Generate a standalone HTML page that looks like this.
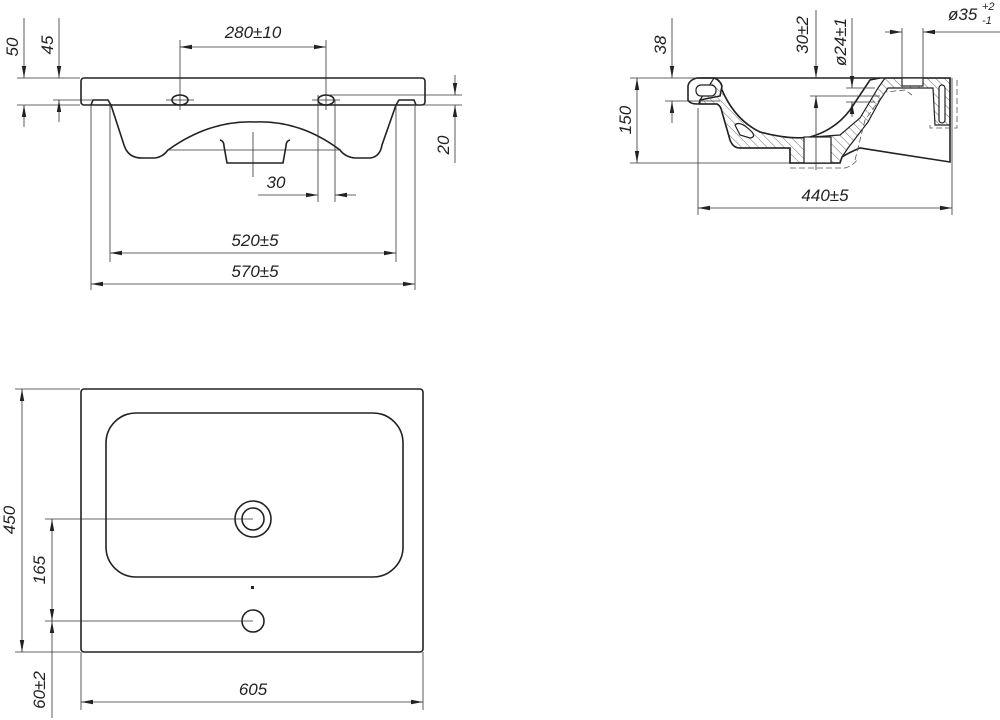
<!DOCTYPE html>
<html><head><meta charset="utf-8"><style>
html,body{margin:0;padding:0;background:#fff}
svg{display:block}
text{font-family:"Liberation Sans",sans-serif;font-style:italic;font-size:17px;fill:#222}
.t{stroke:#222;stroke-width:1.6;fill:none}
.d{stroke:#333;stroke-width:0.8;fill:none}
.dash{stroke:#555;stroke-width:0.8;fill:none;stroke-dasharray:6 3}
</style></head><body>
<svg width="1000" height="720" viewBox="0 0 1000 720" xmlns="http://www.w3.org/2000/svg">
<defs>
<marker id="a" viewBox="0 0 12 6" refX="12" refY="3" markerWidth="12" markerHeight="6" orient="auto-start-reverse" markerUnits="userSpaceOnUse"><path d="M0,0.8 L12,3 L0,5.2 Z" fill="#222"/></marker>
<pattern id="h" width="6" height="6" patternUnits="userSpaceOnUse" patternTransform="rotate(-45)"><line x1="0" y1="0" x2="0" y2="6" stroke="#444" stroke-width="0.8"/></pattern>
</defs>

<!-- TOP LEFT VIEW -->
<rect x="81" y="78" width="344" height="27" rx="3" class="t"/>
<path class="t" d="M91,105 L93,100 L108,100 L111,105"/>
<path class="t" d="M396,105 L399,100 L414,100 L416,105"/>
<path class="t" d="M111,105 L124,145 Q128,158 142,158 L155,158 Q163,157 168,150 Q210,120 255,122 Q300,120 340,150 Q345,157 355,158 L370,158 Q380,157 382,145 L396,105"/>
<line class="d" x1="168" y1="150" x2="340" y2="150"/>
<path class="t" d="M220,140 Q224,141 224,146 L227,163 L283,163 L286,146 Q286,141 290,140"/>
<ellipse class="t" cx="180" cy="100" rx="8" ry="5"/>
<ellipse class="t" cx="326" cy="100" rx="8" ry="5"/>
<line class="d" x1="253" y1="132" x2="253" y2="177"/>
<!-- 280 -->
<line class="d" x1="180" y1="40" x2="180" y2="110"/>
<line class="d" x1="326" y1="40" x2="326" y2="110"/>
<line class="d" x1="180" y1="47" x2="326" y2="47" marker-start="url(#a)" marker-end="url(#a)"/>
<line class="d" x1="166" y1="100" x2="194" y2="100"/>
<line class="d" x1="312" y1="100" x2="340" y2="100"/>
<text x="253" y="38" text-anchor="middle">280±10</text>
<!-- 50 / 45 -->
<line class="d" x1="17" y1="78" x2="80" y2="78"/>
<line class="d" x1="17" y1="105" x2="80" y2="105"/>
<line class="d" x1="53" y1="100" x2="93" y2="100"/>
<line class="d" x1="24" y1="18" x2="24" y2="78" marker-end="url(#a)"/>
<line class="d" x1="24" y1="127" x2="24" y2="105" marker-end="url(#a)"/>
<line class="d" x1="59" y1="18" x2="59" y2="78" marker-end="url(#a)"/>
<line class="d" x1="59" y1="122" x2="59" y2="100" marker-end="url(#a)"/>
<text transform="translate(18,47) rotate(-90)" text-anchor="middle">50</text>
<text transform="translate(53,45) rotate(-90)" text-anchor="middle">45</text>
<!-- 20 -->
<line class="d" x1="330" y1="95" x2="462" y2="95"/>
<line class="d" x1="410" y1="105" x2="462" y2="105"/>
<line class="d" x1="455" y1="75" x2="455" y2="95" marker-end="url(#a)"/>
<line class="d" x1="455" y1="163" x2="455" y2="105" marker-end="url(#a)"/>
<text transform="translate(449,145) rotate(-90)" text-anchor="middle">20</text>
<!-- 30 -->
<line class="d" x1="318" y1="95" x2="318" y2="202"/>
<line class="d" x1="335" y1="100" x2="335" y2="202"/>
<line class="d" x1="258" y1="195" x2="318" y2="195" marker-end="url(#a)"/>
<line class="d" x1="356" y1="195" x2="335" y2="195" marker-end="url(#a)"/>
<text x="276" y="188" text-anchor="middle">30</text>
<!-- 520 / 570 -->
<line class="d" x1="110" y1="105" x2="110" y2="262"/>
<line class="d" x1="396" y1="105" x2="396" y2="262"/>
<line class="d" x1="91" y1="105" x2="91" y2="290"/>
<line class="d" x1="415" y1="105" x2="415" y2="290"/>
<line class="d" x1="110" y1="253" x2="396" y2="253" marker-start="url(#a)" marker-end="url(#a)"/>
<line class="d" x1="91" y1="284" x2="415" y2="284" marker-start="url(#a)" marker-end="url(#a)"/>
<text x="255" y="246" text-anchor="middle">520±5</text>
<text x="255" y="277" text-anchor="middle">570±5</text>

<!-- TOP RIGHT SECTION -->
<path class="t" d="M950,78 L697,78 Q689,80 688,86 L688,100 Q690,104 697,104 L717,104 Q721,106 722,112 L730,140 Q733,148 740,148 L790,148 L790,163 L840,163 L842,157 Q850,152 860,148 L950,162 Z" fill="#fff"/>
<path class="t" d="M697,78 L714,78 Q720,80 722,86 L720,96 L700,100 L699,104" fill="url(#h)"/>
<path class="t" d="M722,90 Q735,120 760,132 Q790,140 810,137 Q835,130 850,110 Q860,95 870,80 L880,78" />
<path d="M714,78 Q722,80 722,90 Q735,120 760,132 Q790,140 812,137 L840,135 L860,118 L878,88 L885,78 L950,78 L950,125 L935,125 L933,88 L888,88 L880,100 L868,122 L848,148 L842,157 L840,163 L790,163 L790,148 L740,148 Q733,148 730,140 L722,112 Q721,106 717,104 L700,104 L700,100 Z" fill="url(#h)" stroke="#222" stroke-width="1.2"/>
<rect x="804" y="137" width="27" height="26" fill="#fff" stroke="#222" stroke-width="1.2"/>
<rect x="696" y="85" width="20" height="11" rx="5" fill="#fff" stroke="#222" stroke-width="1.2"/>
<path d="M735,125 Q740,120 752,132 Q756,137 750,138 L740,135 Z" fill="#fff" stroke="#222" stroke-width="1.2"/>
<rect x="939" y="85" width="6" height="38" rx="3" fill="#fff" stroke="#222" stroke-width="1.2"/>
<rect x="902" y="78" width="21" height="8" fill="#fff" stroke="#222" stroke-width="1.2"/>
<path class="dash" d="M855,160 L865,120 L885,92 L905,90 L912,95"/>
<path class="dash" d="M790,168 L845,168 Q855,165 858,158"/>
<path class="dash" d="M930,125 L930,128 L957,128 L957,78"/>
<!-- dims right -->
<line class="d" x1="630" y1="78" x2="700" y2="78"/>
<line class="d" x1="630" y1="163" x2="790" y2="163"/>
<line class="d" x1="637" y1="78" x2="637" y2="163" marker-start="url(#a)" marker-end="url(#a)"/>
<text transform="translate(631,120) rotate(-90)" text-anchor="middle">150</text>
<line class="d" x1="665" y1="101" x2="720" y2="101"/>
<line class="d" x1="672" y1="18" x2="672" y2="78" marker-end="url(#a)"/>
<line class="d" x1="672" y1="123" x2="672" y2="101" marker-end="url(#a)"/>
<text transform="translate(666,45) rotate(-90)" text-anchor="middle">38</text>
<line class="d" x1="810" y1="96" x2="880" y2="96"/>
<line class="d" x1="816" y1="10" x2="816" y2="78" marker-end="url(#a)"/>
<line class="d" x1="816" y1="170" x2="816" y2="96" marker-end="url(#a)"/>
<text transform="translate(808,35) rotate(-90)" text-anchor="middle">30±2</text>
<line class="d" x1="846" y1="88" x2="875" y2="88"/>
<line class="d" x1="846" y1="102" x2="875" y2="102"/>
<line class="d" x1="852" y1="18" x2="852" y2="88" marker-end="url(#a)"/>
<line class="d" x1="852" y1="117" x2="852" y2="102" marker-end="url(#a)"/>
<text transform="translate(846,42) rotate(-90)" text-anchor="middle">ø24±1</text>
<line class="d" x1="902" y1="28" x2="902" y2="82"/>
<line class="d" x1="923" y1="28" x2="923" y2="82"/>
<line class="d" x1="885" y1="32" x2="902" y2="32" marker-end="url(#a)"/>
<line class="d" x1="1000" y1="32" x2="923" y2="32" marker-end="url(#a)"/>
<text x="948" y="20">ø35</text>
<text x="982" y="10" style="font-size:11px">+2</text>
<text x="982" y="24" style="font-size:11px">-1</text>
<line class="d" x1="698" y1="108" x2="698" y2="215"/>
<line class="d" x1="952" y1="78" x2="952" y2="215"/>
<line class="d" x1="698" y1="208" x2="952" y2="208" marker-start="url(#a)" marker-end="url(#a)"/>
<text x="825" y="201" text-anchor="middle">440±5</text>

<!-- BOTTOM PLAN -->
<rect x="81" y="389" width="342" height="263" rx="3" class="t"/>
<rect x="106" y="413" width="297" height="164" rx="30" class="t"/>
<circle cx="253" cy="519" r="18" class="t"/>
<circle cx="253" cy="519" r="11" class="t"/>
<circle cx="253" cy="621" r="11" class="t"/>
<rect x="251" y="586" width="3" height="3" fill="#222"/>
<line class="d" x1="15" y1="389" x2="80" y2="389"/>
<line class="d" x1="15" y1="652" x2="80" y2="652"/>
<line class="d" x1="45" y1="519" x2="253" y2="519"/>
<line class="d" x1="45" y1="621" x2="253" y2="621"/>
<line class="d" x1="22" y1="389" x2="22" y2="652" marker-start="url(#a)" marker-end="url(#a)"/>
<text transform="translate(15,520) rotate(-90)" text-anchor="middle">450</text>
<line class="d" x1="52" y1="519" x2="52" y2="621" marker-start="url(#a)" marker-end="url(#a)"/>
<text transform="translate(45,570) rotate(-90)" text-anchor="middle">165</text>
<line class="d" x1="52" y1="621" x2="52" y2="718" marker-start="url(#a)"/>
<line class="d" x1="52" y1="652" x2="52" y2="652"/>
<text transform="translate(45,690) rotate(-90)" text-anchor="middle">60±2</text>
<line class="d" x1="81" y1="652" x2="81" y2="710"/>
<line class="d" x1="423" y1="652" x2="423" y2="710"/>
<line class="d" x1="81" y1="702" x2="423" y2="702" marker-start="url(#a)" marker-end="url(#a)"/>
<text x="253" y="695" text-anchor="middle">605</text>
</svg>
</body></html>
